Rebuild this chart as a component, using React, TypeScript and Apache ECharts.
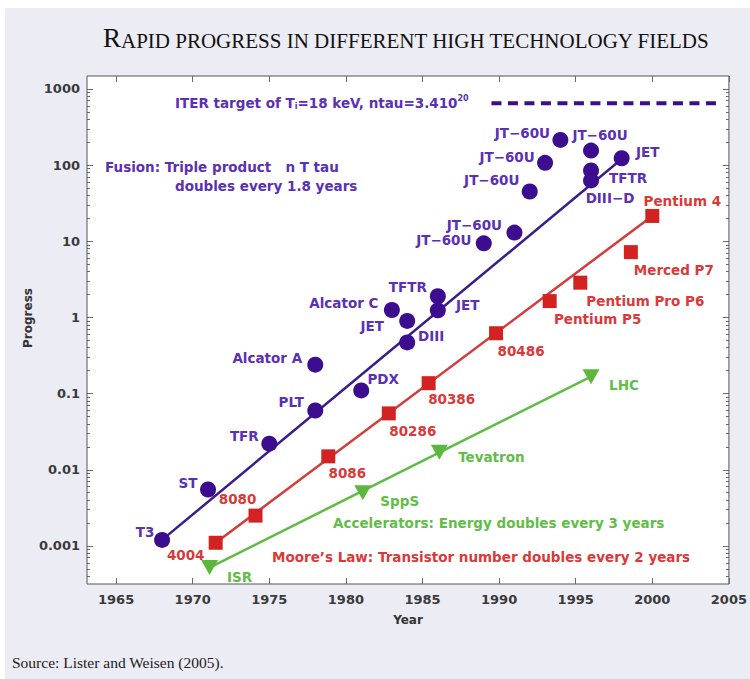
import React, { useEffect, useRef } from 'react';
import * as echarts from 'echarts';

// ---------- data ----------
const fusionNames = ['T3', 'ST', 'TFR', 'PLT', 'Alcator A', 'PDX', 'Alcator C', 'JET', 'DIII', 'TFTR', 'JET',
  'JT−60U', 'JT−60U', 'JT−60U', 'JT−60U', 'JT−60U', 'JT−60U', 'TFTR', 'DIII−D', 'JET'];
const fusionYears = [1968, 1971, 1975, 1978, 1978, 1981, 1983, 1984, 1984, 1986, 1986,
  1989, 1991, 1992, 1993, 1994, 1996, 1996, 1996, 1998];
const fusionValues = [0.0012, 0.0055, 0.022, 0.06, 0.24, 0.11, 1.25, 0.9, 0.47, 1.9, 1.24,
  9.4, 13, 45, 107, 214, 155, 85, 63, 123];

const mooreNames = ['4004', '8080', '8086', '80286', '80386', '80486', 'Pentium P5', 'Pentium Pro P6', 'Merced P7', 'Pentium 4'];
const mooreYears = [1971.5, 1974.1, 1978.85, 1982.8, 1985.4, 1989.8, 1993.3, 1995.3, 1998.6, 2000];
const mooreValues = [0.0011, 0.0025, 0.015, 0.055, 0.137, 0.62, 1.64, 2.86, 7.2, 21.5];

const accelNames = ['ISR', 'SppS', 'Tevatron', 'LHC'];
const accelYears = [1971.1, 1981.1, 1986.1, 1996];
const accelValues = [0.00052, 0.005, 0.017, 0.167];

const fusionTrendYears = [1968, 1998];
const fusionTrendValues = [0.0012, 120];
const mooreTrendYears = [1971.5, 2000];
const mooreTrendValues = [0.0011, 21.5];
const accelTrendYears = [1971.1, 1996];
const accelTrendValues = [0.00052, 0.167];

const iterYears = [1989.5, 2004.3];
const iterValues = [650, 650];

const xTickValues = [1965, 1970, 1975, 1980, 1985, 1990, 1995, 2000, 2005];
const yTickValues = [0.001, 0.01, 0.1, 1, 10, 100, 1000];
const yTickLabels = ['0.001', '0.01', '0.1', '1', '10', '100', '1000'];

// ---------- style / layout ----------
const X_MIN = 1963.1;
const X_MAX = 2005;
const Y_MIN = Math.pow(10, -3.5);
const Y_MAX = Math.pow(10, 3.17);

const fusionLabelOffsets = [[-17, -8], [-20, -7], [-25, -8], [-24, -8], [-48, -7], [22, -11], [-48, -7], [-35, 5], [24, -6],
  [-30, -9], [30, -5], [-40, -3], [-40, -8], [-38, -12], [-38, -6], [-38, -7], [9, -16], [37, 8], [19, 18], [26, -6]];
const mooreLabelOffsets = [[-30, 12], [-18, -17], [19, 17], [24, 18], [23, 16], [25, 18], [48, 18], [65, 18], [43, 18], [30, -15]];
const accelLabelOffsets = [[30, 9], [37, 8], [52, 5], [33, 8]];

const OX = 5;
const OY = 8;
const FONT = 'DejaVu Sans';
const SERIF = 'Liberation Serif';
const purpleMarker = '#3c0d8f';
const purpleLine = '#3a1c8a';
const purpleText = '#5a30b4';
const redMarker = '#d22222';
const redLine = '#d43c3c';
const redText = '#d83a3a';
const greenMarker = '#5cb83c';
const greenLine = '#5fbb44';
const greenText = '#62bd48';

const minorTicks: number[] = [];
for (let k = -4; k <= 3; k++) {
  for (let m = 2; m <= 9; m++) {
    const v = m * Math.pow(10, k);
    if (v > Y_MIN && v < Y_MAX) minorTicks.push(v);
  }
}

function pts(xs: number[], ys: number[]) {
  return xs.map((x, i) => [x, ys[i]]);
}

function scatterData(names: string[], xs: number[], ys: number[], offs: number[][]) {
  return xs.map((x, i) => ({
    name: names[i],
    value: [x, ys[i]],
    label: { offset: offs[i] },
  }));
}

function labelStyle(color: string) {
  return {
    show: true,
    position: 'inside',
    formatter: '{b}',
    color,
    fontFamily: FONT,
    fontWeight: 'bold',
    fontSize: 13.5,
  };
}

function txt(x: number, y: number, text: string, fill: string, extra: any = {}) {
  return {
    type: 'text',
    x: x - OX,
    y: y - OY,
    silent: true,
    style: {
      text,
      fill,
      fontFamily: FONT,
      fontWeight: 'bold',
      fontSize: 13.5,
      align: 'left',
      verticalAlign: 'middle',
      ...extra,
    },
  };
}

export default function App() {
  const ref = useRef<HTMLDivElement>(null);

  useEffect(() => {
    document.body.style.margin = '0';
    document.documentElement.style.overflow = 'hidden';
    if (!ref.current) return;
    const chart = echarts.init(ref.current, undefined, { renderer: 'svg' });

    const yBase = {
      type: 'log',
      logBase: 10,
      min: Y_MIN,
      max: Y_MAX,
      splitLine: { show: false },
      axisLine: { show: false, onZero: false },
    };
    const xBase = {
      type: 'value',
      min: X_MIN,
      max: X_MAX,
      splitLine: { show: false },
      axisLine: { show: false, onZero: false },
    };
    const tickColor = '#6a6a6a';

    const option: any = {
      animation: false,
      backgroundColor: '#ececf4',
      grid: {
        left: 82,
        top: 68,
        right: 20,
        bottom: 95,
        show: true,
        backgroundColor: '#ffffff',
        borderColor: '#555555',
        borderWidth: 1,
      },
      xAxis: [
        {
          ...xBase,
          position: 'bottom',
          axisTick: { inside: true, length: 6, customValues: xTickValues, lineStyle: { color: tickColor } },
          axisLabel: {
            customValues: xTickValues,
            color: '#3a3a3a',
            fontFamily: FONT,
            fontWeight: 'bold',
            fontSize: 13,
            margin: 9,
            formatter: (v: number) => String(Math.round(v)),
          },
        },
        {
          ...xBase,
          position: 'top',
          axisTick: { inside: true, length: 6, customValues: xTickValues, lineStyle: { color: tickColor } },
          axisLabel: { show: false },
        },
      ],
      yAxis: [
        {
          ...yBase,
          position: 'left',
          axisTick: { inside: true, length: 6, customValues: yTickValues, lineStyle: { color: tickColor } },
          axisLabel: {
            customValues: yTickValues,
            color: '#3a3a3a',
            fontFamily: FONT,
            fontWeight: 'bold',
            fontSize: 13,
            margin: 7,
            formatter: (v: number) => {
              const i = yTickValues.findIndex((t) => Math.abs(Math.log10(t) - Math.log10(v)) < 1e-6);
              return i >= 0 ? yTickLabels[i] : '';
            },
          },
        },
        {
          ...yBase,
          position: 'right',
          axisTick: { inside: true, length: 6, customValues: yTickValues, lineStyle: { color: tickColor } },
          axisLabel: { show: false },
        },
        {
          ...yBase,
          position: 'left',
          axisTick: { inside: true, length: 3, customValues: minorTicks, lineStyle: { color: tickColor } },
          axisLabel: { show: false },
        },
        {
          ...yBase,
          position: 'right',
          axisTick: { inside: true, length: 3, customValues: minorTicks, lineStyle: { color: tickColor } },
          axisLabel: { show: false },
        },
      ],
      series: [
        {
          type: 'line',
          data: pts(iterYears, iterValues),
          symbol: 'none',
          lineStyle: { color: purpleMarker, width: 4, type: [10, 6.5] },
          z: 2,
        },
        {
          type: 'line',
          data: pts(fusionTrendYears, fusionTrendValues),
          symbol: 'none',
          lineStyle: { color: purpleLine, width: 2.5 },
          z: 2,
        },
        {
          type: 'line',
          data: pts(mooreTrendYears, mooreTrendValues),
          symbol: 'none',
          lineStyle: { color: redLine, width: 2.5 },
          z: 2,
        },
        {
          type: 'line',
          data: pts(accelTrendYears, accelTrendValues),
          symbol: 'none',
          lineStyle: { color: greenLine, width: 2.5 },
          z: 2,
        },
        {
          type: 'scatter',
          data: scatterData(fusionNames, fusionYears, fusionValues, fusionLabelOffsets),
          symbol: 'circle',
          symbolSize: 16,
          itemStyle: { color: purpleMarker, opacity: 1 },
          label: labelStyle(purpleText),
          z: 3,
        },
        {
          type: 'scatter',
          data: scatterData(mooreNames, mooreYears, mooreValues, mooreLabelOffsets),
          symbol: 'rect',
          symbolSize: 14,
          itemStyle: { color: redMarker, opacity: 1 },
          label: labelStyle(redText),
          z: 3,
        },
        {
          type: 'scatter',
          data: scatterData(accelNames, accelYears, accelValues, accelLabelOffsets),
          symbol: 'triangle',
          symbolRotate: 180,
          symbolSize: [17, 15],
          itemStyle: { color: greenMarker, opacity: 1 },
          label: labelStyle(greenText),
          z: 3,
        },
      ],
      graphic: [
        {
          type: 'rect',
          x: -OX,
          y: -OY,
          silent: true,
          z: -100,
          shape: { width: 0, height: 0 },
          style: { fill: 'none' },
        },
        {
          type: 'text',
          x: 103 - OX,
          y: 38 - OY,
          silent: true,
          style: {
            text: '{b|R}{s|APID PROGRESS IN DIFFERENT HIGH TECHNOLOGY FIELDS}',
            fill: '#111',
            align: 'left',
            verticalAlign: 'middle',
            rich: {
              b: { fontFamily: SERIF, fontSize: 27, fill: '#111', verticalAlign: 'bottom', lineHeight: 26 },
              s: { fontFamily: SERIF, fontSize: 21, fill: '#111', verticalAlign: 'bottom', lineHeight: 22 },
            },
          },
        },
        txt(12, 662, 'Source: Lister and Weisen (2005).', '#222', { fontFamily: SERIF, fontWeight: 'normal', fontSize: 15.5 }),
        {
          type: 'text',
          x: 175 - OX,
          y: 103 - OY,
          silent: true,
          style: {
            text: '{a|ITER target of T}{sub|i}{a|=18 keV, ntau=3.410}{sup|20}',
            fill: purpleText,
            align: 'left',
            verticalAlign: 'middle',
            rich: {
              a: { fontFamily: FONT, fontWeight: 'bold', fontSize: 13.5, fill: purpleText, lineHeight: 18, verticalAlign: 'middle' },
              sub: { fontFamily: FONT, fontWeight: 'bold', fontSize: 8, fill: purpleText, lineHeight: 18, verticalAlign: 'bottom', padding: [0, 0, 2, 0] },
              sup: { fontFamily: FONT, fontWeight: 'bold', fontSize: 8, fill: purpleText, lineHeight: 18, verticalAlign: 'top' },
            },
          },
        },
        txt(105, 167, 'Fusion: Triple product   n T tau', purpleText),
        txt(175, 186, 'doubles every 1.8 years', purpleText),
        txt(333, 523, 'Accelerators: Energy doubles every 3 years', greenText),
        txt(272, 557, 'Moore\u2019s Law: Transistor number doubles every 2 years', redText),
        txt(408, 620, 'Year', '#333', { align: 'center', fontSize: 12 }),
        {
          type: 'text',
          x: 28 - OX,
          y: 318 - OY,
          rotation: Math.PI / 2,
          silent: true,
          style: {
            text: 'Progress',
            fill: '#333',
            fontFamily: FONT,
            fontWeight: 'bold',
            fontSize: 12,
            align: 'center',
            verticalAlign: 'middle',
          },
        },
      ],
    };

    chart.setOption(option);
    return () => chart.dispose();
  }, []);

  return (
    <div style={{ position: 'relative', width: 750, height: 679, background: '#ffffff', overflow: 'hidden' }}>
      <div
        ref={ref}
        style={{ position: 'absolute', left: OX, top: OY, width: 750 - OX, height: 679 - OY }}
      />
    </div>
  );
}
